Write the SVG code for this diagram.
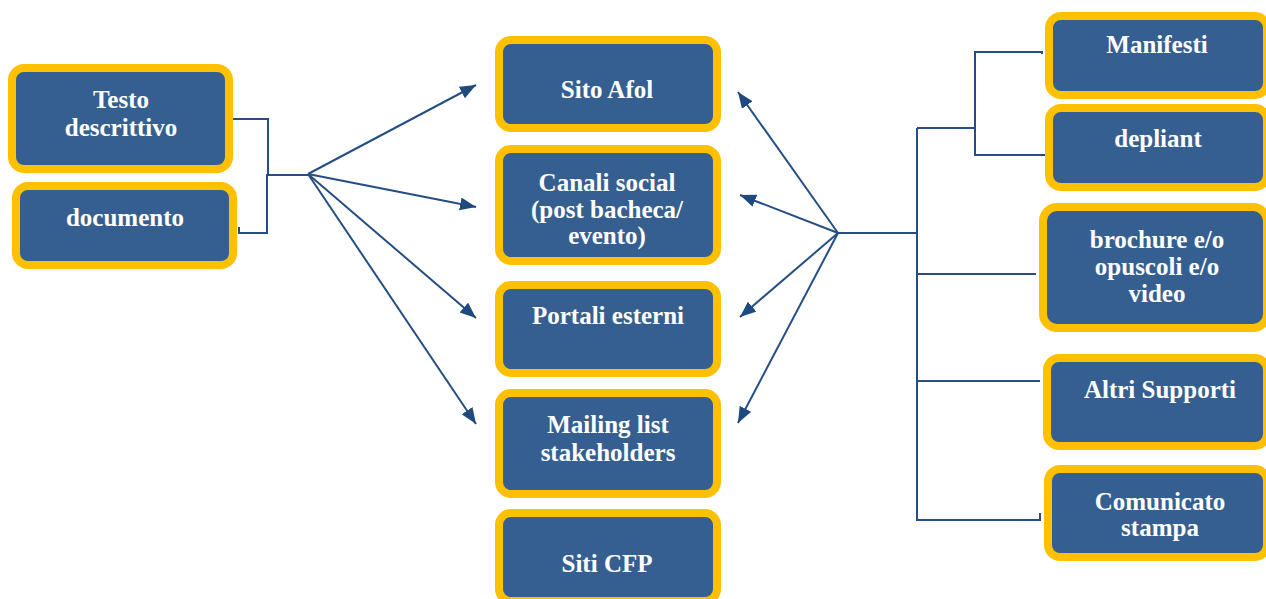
<svg xmlns="http://www.w3.org/2000/svg" width="1266" height="599" viewBox="0 0 1266 599">
<defs>
<style>
.box{fill:#365F91;stroke:#FFC000;stroke-width:8}
.t{font-family:"Liberation Serif","Times New Roman",serif;font-weight:bold;font-size:25px;fill:#FFFFFF;text-anchor:middle}
.c{fill:none;stroke:#254E84;stroke-width:2}
</style>
<marker id="ah" markerUnits="userSpaceOnUse" markerWidth="18" markerHeight="14" refX="16" refY="6.5" orient="auto">
<path d="M0,0 L16,6.5 L0,13 z" fill="#1F4A80"/>
</marker>
</defs>
<rect width="1266" height="599" fill="#FFFFFF"/>
<g id="connectors">
<path class="c" d="M233,119 H268 V175"/>
<path class="c" d="M239,227 V233 H267 V175 H308"/>
<line class="c" x1="308" y1="174" x2="476" y2="85" marker-end="url(#ah)"/>
<line class="c" x1="308" y1="174" x2="476" y2="207" marker-end="url(#ah)"/>
<line class="c" x1="308" y1="174" x2="476" y2="318" marker-end="url(#ah)"/>
<line class="c" x1="308" y1="174" x2="476" y2="424" marker-end="url(#ah)"/>
<line class="c" x1="838" y1="233" x2="738" y2="92" marker-end="url(#ah)"/>
<line class="c" x1="838" y1="233" x2="740" y2="195" marker-end="url(#ah)"/>
<line class="c" x1="838" y1="233" x2="740" y2="317" marker-end="url(#ah)"/>
<line class="c" x1="838" y1="233" x2="738" y2="423" marker-end="url(#ah)"/>
<path class="c" d="M838,233 H917"/>
<path class="c" d="M917,128 V520 H1040 V513"/>
<path class="c" d="M917,128 H975"/>
<path class="c" d="M1042,54 V52 H975 V155 H1045"/>
<path class="c" d="M917,274 H1036"/>
<path class="c" d="M917,381 H1040"/>
</g>
<g id="node-testo">
<rect class="box" x="12" y="68" width="217" height="101" rx="12"/>
<text class="t" x="121" y="108">Testo</text>
<text class="t" x="121" y="136">descrittivo</text>
</g>
<g id="node-documento">
<rect class="box" x="16" y="186" width="217" height="79" rx="12"/>
<text class="t" x="125" y="226">documento</text>
</g>
<g id="node-sito-afol">
<rect class="box" x="499" y="40" width="218" height="88" rx="12"/>
<text class="t" x="607" y="98">Sito Afol</text>
</g>
<g id="node-canali-social">
<rect class="box" x="499" y="149" width="218" height="112" rx="12"/>
<text class="t" x="607" y="191">Canali social</text>
<text class="t" x="607" y="218">(post bacheca/</text>
<text class="t" x="607" y="244">evento)</text>
</g>
<g id="node-portali">
<rect class="box" x="499" y="285" width="218" height="88" rx="12"/>
<text class="t" x="608" y="324">Portali esterni</text>
</g>
<g id="node-mailing">
<rect class="box" x="499" y="393" width="218" height="101" rx="12"/>
<text class="t" x="608" y="433">Mailing list</text>
<text class="t" x="608" y="461">stakeholders</text>
</g>
<g id="node-siti-cfp">
<rect class="box" x="499" y="513" width="218" height="88" rx="12"/>
<text class="t" x="607" y="572">Siti CFP</text>
</g>
<g id="node-manifesti">
<rect class="box" x="1049" y="16" width="218" height="79" rx="12"/>
<text class="t" x="1157" y="53">Manifesti</text>
</g>
<g id="node-depliant">
<rect class="box" x="1049" y="108" width="218" height="79" rx="12"/>
<text class="t" x="1158" y="147">depliant</text>
</g>
<g id="node-brochure">
<rect class="box" x="1043" y="207" width="224" height="121" rx="14"/>
<text class="t" x="1157" y="248">brochure e/o</text>
<text class="t" x="1157" y="275">opuscoli e/o</text>
<text class="t" x="1157" y="302">video</text>
</g>
<g id="node-altri">
<rect class="box" x="1047" y="358" width="220" height="88" rx="12"/>
<text class="t" x="1160" y="398">Altri Supporti</text>
</g>
<g id="node-comunicato">
<rect class="box" x="1048" y="469" width="219" height="88" rx="12"/>
<text class="t" x="1160" y="510">Comunicato</text>
<text class="t" x="1160" y="536">stampa</text>
</g>
</svg>
